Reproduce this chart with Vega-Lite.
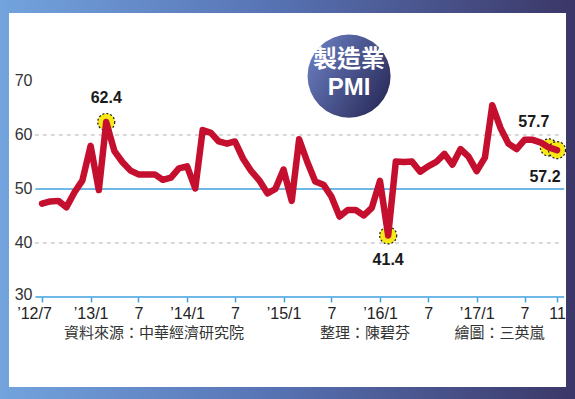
{
  "$schema": "https://vega.github.io/schema/vega-lite/v6.json",
  "width": 575,
  "height": 399,
  "autosize": "none",
  "padding": 0,
  "background": "#ffffff",
  "config": {"view": {"stroke": null}},
  "datasets": {
    "pmi": [
      {"month": "2012-07-01", "pmi": 47.3}, {"month": "2012-08-01", "pmi": 47.7}, {"month": "2012-09-01", "pmi": 47.8},
      {"month": "2012-10-01", "pmi": 46.6}, {"month": "2012-11-01", "pmi": 49.4}, {"month": "2012-12-01", "pmi": 51.6},
      {"month": "2013-01-01", "pmi": 58.0}, {"month": "2013-02-01", "pmi": 49.8}, {"month": "2013-03-01", "pmi": 62.4},
      {"month": "2013-04-01", "pmi": 57.0}, {"month": "2013-05-01", "pmi": 55.0}, {"month": "2013-06-01", "pmi": 53.4},
      {"month": "2013-07-01", "pmi": 52.7}, {"month": "2013-08-01", "pmi": 52.7}, {"month": "2013-09-01", "pmi": 52.7},
      {"month": "2013-10-01", "pmi": 51.7}, {"month": "2013-11-01", "pmi": 52.1}, {"month": "2013-12-01", "pmi": 53.8},
      {"month": "2014-01-01", "pmi": 54.2}, {"month": "2014-02-01", "pmi": 50.1}, {"month": "2014-03-01", "pmi": 60.9},
      {"month": "2014-04-01", "pmi": 60.4}, {"month": "2014-05-01", "pmi": 58.8}, {"month": "2014-06-01", "pmi": 58.4},
      {"month": "2014-07-01", "pmi": 58.8}, {"month": "2014-08-01", "pmi": 55.6}, {"month": "2014-09-01", "pmi": 53.3},
      {"month": "2014-10-01", "pmi": 51.6}, {"month": "2014-11-01", "pmi": 49.2}, {"month": "2014-12-01", "pmi": 50.0},
      {"month": "2015-01-01", "pmi": 53.6}, {"month": "2015-02-01", "pmi": 47.8}, {"month": "2015-03-01", "pmi": 59.2},
      {"month": "2015-04-01", "pmi": 55.0}, {"month": "2015-05-01", "pmi": 51.4}, {"month": "2015-06-01", "pmi": 50.8},
      {"month": "2015-07-01", "pmi": 48.6}, {"month": "2015-08-01", "pmi": 44.9}, {"month": "2015-09-01", "pmi": 46.1},
      {"month": "2015-10-01", "pmi": 46.1}, {"month": "2015-11-01", "pmi": 45.1}, {"month": "2015-12-01", "pmi": 46.5},
      {"month": "2016-01-01", "pmi": 51.5}, {"month": "2016-02-01", "pmi": 41.4}, {"month": "2016-03-01", "pmi": 55.1},
      {"month": "2016-04-01", "pmi": 55.0}, {"month": "2016-05-01", "pmi": 55.1}, {"month": "2016-06-01", "pmi": 53.2},
      {"month": "2016-07-01", "pmi": 54.2}, {"month": "2016-08-01", "pmi": 55.0}, {"month": "2016-09-01", "pmi": 56.5},
      {"month": "2016-10-01", "pmi": 54.5}, {"month": "2016-11-01", "pmi": 57.4}, {"month": "2016-12-01", "pmi": 56.0},
      {"month": "2017-01-01", "pmi": 53.3}, {"month": "2017-02-01", "pmi": 55.8}, {"month": "2017-03-01", "pmi": 65.5},
      {"month": "2017-04-01", "pmi": 61.3}, {"month": "2017-05-01", "pmi": 58.4}, {"month": "2017-06-01", "pmi": 57.4},
      {"month": "2017-07-01", "pmi": 59.1}, {"month": "2017-08-01", "pmi": 59.1}, {"month": "2017-09-01", "pmi": 58.6},
      {"month": "2017-10-01", "pmi": 57.7}, {"month": "2017-11-01", "pmi": 57.2}
    ],
    "callouts": [
      {"month": "2013-03-01", "pmi": 62.4, "label": "62.4", "side": "above"},
      {"month": "2016-02-01", "pmi": 41.4, "label": "41.4", "side": "below"},
      {"month": "2017-10-01", "pmi": 57.7, "label": "57.7", "side": "aboveleft"},
      {"month": "2017-11-01", "pmi": 57.2, "label": "57.2", "side": "belowleft"}
    ],
    "solid": [{"level": 30}, {"level": 50}],
    "dashed": [{"level": 40}, {"level": 60}]
  },
  "layer": [
    {
      "data": {"values": [{"part": "frame"}]},
      "mark": {"type": "rect", "color": {"gradient": "linear", "x1": 0, "y1": 0, "x2": 1, "y2": 0, "stops": [{"offset": 0, "color": "#74a6e0"}, {"offset": 0.5, "color": "#5670b0"}, {"offset": 1, "color": "#3a3464"}]}},
      "encoding": {
        "x": {"datum": {"year": 2011, "month": 12, "date": 1, "utc": true}, "type": "temporal",
              "scale": {"type": "utc", "domain": [{"year": 2012, "month": 1, "date": 24, "utc": true}, {"year": 2018, "month": 1, "date": 8, "utc": true}], "nice": false}},
        "x2": {"datum": {"year": 2018, "month": 3, "date": 1, "utc": true}},
        "y": {"datum": 0, "type": "quantitative", "scale": {"domain": [11.11, 85], "nice": false, "zero": false}},
        "y2": {"datum": 100}
      }
    },
    {
      "data": {"values": [{"part": "panel"}]},
      "mark": {"type": "rect", "color": "#ffffff"},
      "encoding": {
        "x": {"datum": {"year": 2012, "month": 2, "date": 27, "utc": true}, "type": "temporal"},
        "x2": {"datum": {"year": 2017, "month": 12, "date": 5, "utc": true}},
        "y": {"datum": 13.33, "type": "quantitative"},
        "y2": {"datum": 82.59}
      }
    },
    {
      "data": {"values": [{"part": "badge"}]},
      "mark": {"type": "point", "shape": "circle", "filled": true, "size": 6900, "opacity": 1,
               "color": {"gradient": "linear", "x1": 0, "y1": 0.2, "x2": 1, "y2": 0.8, "stops": [{"offset": 0, "color": "#6a7dc0"}, {"offset": 1, "color": "#282a58"}]}},
      "encoding": {
        "x": {"datum": {"year": 2015, "month": 9, "date": 6, "utc": true}, "type": "temporal"},
        "y": {"datum": 70.9, "type": "quantitative"}
      }
    },
    {
      "data": {"values": [{"t": "製造業"}]},
      "mark": {"type": "text", "font": "Noto Sans CJK TC", "fontWeight": "bold", "fontSize": 24, "color": "#ffffff", "align": "center", "baseline": "middle"},
      "encoding": {
        "x": {"datum": {"year": 2015, "month": 9, "date": 6, "utc": true}, "type": "temporal"},
        "y": {"datum": 73.9, "type": "quantitative"},
        "text": {"field": "t"}
      }
    },
    {
      "data": {"values": [{"t": "PMI"}]},
      "mark": {"type": "text", "font": "Liberation Sans", "fontWeight": "bold", "fontSize": 24, "color": "#ffffff", "align": "center", "baseline": "middle"},
      "encoding": {
        "x": {"datum": {"year": 2015, "month": 9, "date": 6, "utc": true}, "type": "temporal"},
        "y": {"datum": 68.7, "type": "quantitative"},
        "text": {"field": "t"}
      }
    },
    {
      "data": {"name": "dashed"},
      "mark": {"type": "rule", "color": "#b4b4b4", "strokeWidth": 1, "strokeDash": [4, 4]},
      "encoding": {
        "x": {"datum": {"year": 2012, "month": 6, "date": 4, "utc": true}, "type": "temporal"},
        "x2": {"datum": {"year": 2017, "month": 11, "date": 22, "utc": true}},
        "y": {"field": "level", "type": "quantitative"}
      }
    },
    {
      "data": {"name": "solid"},
      "mark": {"type": "rule", "color": "#3fa2e0", "strokeWidth": 1.5},
      "encoding": {
        "x": {"datum": {"year": 2012, "month": 6, "date": 6, "utc": true}, "type": "temporal"},
        "x2": {"datum": {"year": 2017, "month": 11, "date": 28, "utc": true}},
        "y": {"field": "level", "type": "quantitative"}
      }
    },
    {
      "data": {"name": "callouts"},
      "mark": {"type": "point", "shape": "circle", "filled": false, "size": 290, "fill": "#f7e816", "fillOpacity": 1, "stroke": "#1a1a1a", "strokeWidth": 1.2, "strokeDash": [2, 2], "opacity": 1},
      "encoding": {
        "x": {"field": "month", "type": "temporal"},
        "y": {"field": "pmi", "type": "quantitative"}
      }
    },
    {
      "data": {"name": "pmi"},
      "mark": {"type": "line", "color": "#c40f2f", "strokeWidth": 6.5, "strokeJoin": "round", "strokeCap": "round"},
      "encoding": {
        "x": {"field": "month", "type": "temporal",
              "axis": {
                "orient": "bottom", "offset": -102, "zindex": 1, "domain": false, "grid": false, "title": null,
                "values": [
                  {"year": 2012, "month": 7, "date": 1, "utc": true}, {"year": 2013, "month": 1, "date": 1, "utc": true},
                  {"year": 2013, "month": 7, "date": 1, "utc": true}, {"year": 2014, "month": 1, "date": 1, "utc": true},
                  {"year": 2014, "month": 7, "date": 1, "utc": true}, {"year": 2015, "month": 1, "date": 1, "utc": true},
                  {"year": 2015, "month": 7, "date": 1, "utc": true}, {"year": 2016, "month": 1, "date": 1, "utc": true},
                  {"year": 2016, "month": 7, "date": 1, "utc": true}, {"year": 2017, "month": 1, "date": 1, "utc": true},
                  {"year": 2017, "month": 7, "date": 1, "utc": true}, {"year": 2017, "month": 11, "date": 1, "utc": true}
                ],
                "labelExpr": "utcmonth(datum.value) == 0 ? '’' + utcFormat(datum.value, '%y') + '/1' : (utcyear(datum.value) == 2012 ? '’12/7' : (utcmonth(datum.value) == 6 ? '7' : '11'))",
                "tickColor": "#3fa2e0", "tickSize": 5, "tickWidth": 1.5,
                "labelFont": "Liberation Sans", "labelFontSize": 16, "labelColor": "#222222", "labelPadding": 3,
                "labelAlign": "center", "labelBaseline": "top", "labelOverlap": false, "labelFlush": false,
                "labelOffset": {"condition": {"test": "utcyear(datum.value) == 2012", "value": -8}, "value": 0}
              }},
        "y": {"field": "pmi", "type": "quantitative",
              "axis": {
                "orient": "left", "offset": -33, "zindex": 1, "domain": false, "ticks": false, "grid": false, "title": null,
                "values": [30, 40, 50, 60, 70],
                "labelFont": "Liberation Sans", "labelFontSize": 16, "labelColor": "#333333", "labelPadding": 1,
                "labelOffset": {"condition": {"test": "datum.value == 30", "value": -2}, "value": 0}
              }}
      }
    },
    {
      "data": {"name": "callouts"},
      "transform": [{"filter": "datum.side == 'above'"}],
      "mark": {"type": "text", "font": "Liberation Sans", "fontWeight": "bold", "fontSize": 16, "color": "#1a1a1a", "dy": -24, "align": "center", "baseline": "middle"},
      "encoding": {"x": {"field": "month", "type": "temporal"}, "y": {"field": "pmi", "type": "quantitative"}, "text": {"field": "label"}}
    },
    {
      "data": {"name": "callouts"},
      "transform": [{"filter": "datum.side == 'below'"}],
      "mark": {"type": "text", "font": "Liberation Sans", "fontWeight": "bold", "fontSize": 16, "color": "#1a1a1a", "dy": 25, "align": "center", "baseline": "middle"},
      "encoding": {"x": {"field": "month", "type": "temporal"}, "y": {"field": "pmi", "type": "quantitative"}, "text": {"field": "label"}}
    },
    {
      "data": {"name": "callouts"},
      "transform": [{"filter": "datum.side == 'aboveleft'"}],
      "mark": {"type": "text", "font": "Liberation Sans", "fontWeight": "bold", "fontSize": 16, "color": "#1a1a1a", "dx": -15, "dy": -25, "align": "center", "baseline": "middle"},
      "encoding": {"x": {"field": "month", "type": "temporal"}, "y": {"field": "pmi", "type": "quantitative"}, "text": {"field": "label"}}
    },
    {
      "data": {"name": "callouts"},
      "transform": [{"filter": "datum.side == 'belowleft'"}],
      "mark": {"type": "text", "font": "Liberation Sans", "fontWeight": "bold", "fontSize": 16, "color": "#1a1a1a", "dx": -12, "dy": 27, "align": "center", "baseline": "middle"},
      "encoding": {"x": {"field": "month", "type": "temporal"}, "y": {"field": "pmi", "type": "quantitative"}, "text": {"field": "label"}}
    },
    {
      "data": {"values": [{"t": "資料來源：中華經濟研究院"}]},
      "mark": {"type": "text", "font": "Noto Sans CJK TC", "fontSize": 15, "color": "#333333", "align": "center", "baseline": "middle"},
      "encoding": {"x": {"datum": {"year": 2013, "month": 8, "date": 29, "utc": true}, "type": "temporal"}, "y": {"datum": 23.4, "type": "quantitative"}, "text": {"field": "t"}}
    },
    {
      "data": {"values": [{"t": "整理：陳碧芬"}]},
      "mark": {"type": "text", "font": "Noto Sans CJK TC", "fontSize": 15, "color": "#333333", "align": "center", "baseline": "middle"},
      "encoding": {"x": {"datum": {"year": 2015, "month": 11, "date": 5, "utc": true}, "type": "temporal"}, "y": {"datum": 23.4, "type": "quantitative"}, "text": {"field": "t"}}
    },
    {
      "data": {"values": [{"t": "繪圖：三英嵐"}]},
      "mark": {"type": "text", "font": "Noto Sans CJK TC", "fontSize": 15, "color": "#333333", "align": "center", "baseline": "middle"},
      "encoding": {"x": {"datum": {"year": 2017, "month": 3, "date": 28, "utc": true}, "type": "temporal"}, "y": {"datum": 23.4, "type": "quantitative"}, "text": {"field": "t"}}
    }
  ]
}
